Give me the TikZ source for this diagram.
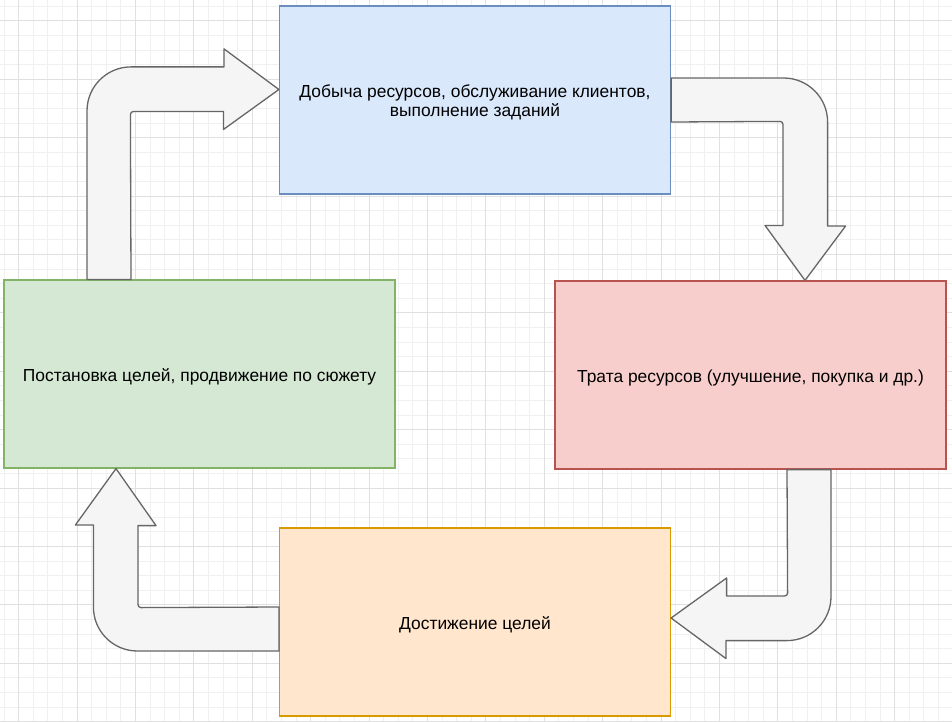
\documentclass[tikz,border=0pt]{standalone}
\usepackage{fontspec}
\setmainfont{Liberation Sans}
\usetikzlibrary{
    positioning
}

\definecolor{bluefill}{HTML}{DAE8FC}
\definecolor{blueline}{HTML}{6C8EBF}
\definecolor{redfill}{HTML}{F8CECC}
\definecolor{redline}{HTML}{B85450}
\definecolor{orangefill}{HTML}{FFE6CC}
\definecolor{orangeline}{HTML}{D79B00}
\definecolor{greenfill}{HTML}{D5E8D4}
\definecolor{greenline}{HTML}{82B366}
\definecolor{arrowfill}{HTML}{F5F5F5}
\definecolor{arrowline}{HTML}{666666}

\begin{document}
\begin{tikzpicture}[x=1pt,y=-1pt,
    minorgrid/.style={draw=black!6,line width=0.6pt},
    majorgrid/.style={draw=black!12,line width=0.6pt},
    box/.style={draw,line width=1.2pt,minimum width=391pt,minimum height=188pt,
        inner sep=0pt,align=center,font=\fontsize{17.4}{19}\selectfont},
    lowtext/.style={text height=15pt,text depth=0pt},
    blockarrow/.style={draw=arrowline,fill=arrowfill,line width=1.3pt,line join=round}]
    \useasboundingbox[fill=white] (0,0) rectangle (952,722);

    % background grid
    \foreach \k in {0,...,65}
        \draw[minorgrid] ({3.9+14.6*\k},0) -- ++(0,722);
    \foreach \k in {0,...,49}
        \draw[minorgrid] (0,{6.1+14.6*\k}) -- ++(952,0);
    \foreach \k in {0,...,16}
        \draw[majorgrid] ({18.5+58.4*\k},0) -- ++(0,722);
    \foreach \k in {0,...,12}
        \draw[majorgrid] (0,{20.7+58.4*\k}) -- ++(952,0);

    \node[box,fill=bluefill,draw=blueline] (earn) at (475,100)
        {\raisebox{-3.4pt}[\height][\depth]{\begin{tabular}{@{}c@{}}
            Добыча ресурсов, обслуживание клиентов,\\выполнение заданий
        \end{tabular}}};
    \node[box,lowtext,fill=redfill,draw=redline] (spend) at (750.5,375)
        {Трата ресурсов (улучшение, покупка и др.)};
    \node[box,lowtext,fill=orangefill,draw=orangeline] (reach) at (475,622)
        {Достижение целей};
    \node[box,lowtext,fill=greenfill,draw=greenline] (goals) at (199.5,374)
        {Постановка целей, продвижение по сюжету};

    % goals -> earn
    \draw[blockarrow] ([xshift=-112.5pt]goals.north) -- ++(0,-168.5)
        arc[start angle=180,end angle=270,radius=44] -- ++(93,0) -- ++(0,-18)
        -- ([yshift=10.5pt]earn.west) -- ++(-55.5,40) -- ++(0,-18) -- ++(-90,0)
        arc[start angle=270,end angle=180,radius=3]
        -- ([xshift=-68.5pt]goals.north) -- cycle;

    % earn -> spend
    \draw[blockarrow] ([yshift=22pt]earn.east) -- ++(112.5,0)
        arc[start angle=270,end angle=360,radius=44] -- ++(0,104) -- ++(18,0)
        -- ([xshift=54.5pt]spend.north) -- ++(-40,-55) -- ++(18,0) -- ++(0,-101)
        arc[start angle=0,end angle=-90,radius=3]
        -- ([yshift=-22pt]earn.east) -- cycle;

    % spend -> reach
    \draw[blockarrow] ([xshift=80.5pt]spend.south) -- ++(0,127)
        arc[start angle=0,end angle=90,radius=44] -- ++(-61,0) -- ++(0,18)
        -- ([yshift=4pt]reach.east) -- ++(55.5,-40) -- ++(0,18) -- ++(58,0)
        arc[start angle=90,end angle=0,radius=3]
        -- ([xshift=36.5pt]spend.south) -- cycle;

    % reach -> goals
    \draw[blockarrow] ([yshift=-29pt]reach.west) -- ++(-141.5,0)
        arc[start angle=90,end angle=180,radius=44] -- ++(0,-82) -- ++(-18,0)
        -- ([xshift=-83.5pt]goals.south) -- ++(40,57) -- ++(-18,0) -- ++(0,79)
        arc[start angle=180,end angle=90,radius=3]
        -- ([yshift=15pt]reach.west) -- cycle;
\end{tikzpicture}
\end{document}
